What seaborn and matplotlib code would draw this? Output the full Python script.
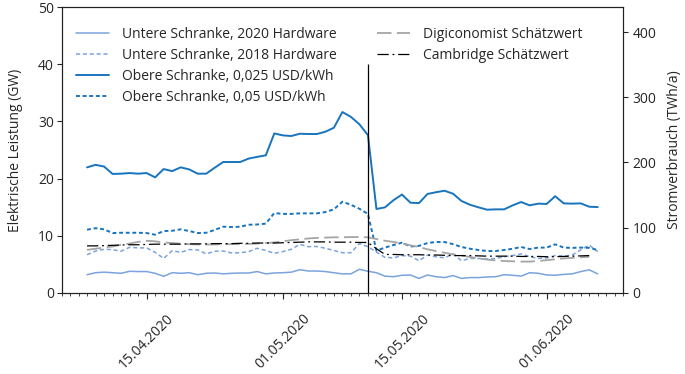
import matplotlib
matplotlib.use("Agg")
import matplotlib.pyplot as plt
import matplotlib.dates as mdates
import seaborn as sns
import pandas as pd
import numpy as np

# Zeitachse (täglich)
days_all = pd.date_range("2020-04-08", "2020-06-07", freq="D")
days_est = pd.date_range("2020-04-08", "2020-06-06", freq="D")
halving = pd.Timestamp("2020-05-11")

# Werte in GW
untere_2020 = [3.15, 3.5, 3.6, 3.5, 3.4, 3.75, 3.7, 3.7, 3.4, 2.87, 3.5, 3.4, 3.5, 3.15, 3.4, 3.45,
               3.3, 3.4, 3.45, 3.45, 3.7, 3.3, 3.45,
               3.5, 3.6, 4.03, 3.8, 3.8, 3.7, 3.5, 3.3, 3.3, 4.1, 3.75,
               3.5, 2.9, 2.8, 3.05, 3.1, 2.5, 3.1, 2.8, 2.65, 3.0, 2.5, 2.65, 2.65, 2.75, 2.8, 3.15,
               3.05, 2.9, 3.5, 3.4,
               3.1, 3.05, 3.2, 3.3, 3.7, 4.0, 3.3]
untere_2018 = [6.65, 7.3, 7.6, 7.55, 7.26, 7.95, 7.85, 7.85, 7.07, 6.0, 7.36, 7.07, 7.55, 7.5, 6.8, 7.26,
               7.3, 6.95, 7.0, 7.2, 7.78, 7.4, 6.9,
               7.2, 7.6, 8.47, 8.06, 8.1, 7.78, 7.4, 7.0, 7.0, 8.6, 8.06,
               7.1, 6.2, 6.1, 6.5, 6.4, 5.6, 6.6, 6.3, 6.1, 6.8, 5.6, 6.0, 6.0, 5.9, 6.0, 6.3,
               6.5, 6.8, 6.3, 6.0,
               6.1, 6.5, 6.4, 6.6, 7.5, 8.35, 7.2]
obere_0025 = [21.96, 22.4, 22.1, 20.8, 20.85, 20.96, 20.85, 20.96, 20.2, 21.66, 21.3, 21.96, 21.6,
              20.85, 20.85, 21.9, 22.9, 22.9, 22.9, 23.5, 23.8, 24.06, 27.9,
              27.56, 27.45, 27.85, 27.8, 27.8, 28.2, 28.9, 31.65, 30.8, 29.5, 27.6,
              14.66, 14.95, 16.2, 17.2, 15.76, 15.7, 17.3, 17.6, 17.86, 17.34, 16.06, 15.4, 14.95,
              14.54, 14.6, 14.6, 15.3, 15.88, 15.3, 15.6,
              15.55, 16.9, 15.65, 15.6, 15.65, 15.06, 15.0]
obere_005 = [11.04, 11.3, 11.1, 10.45, 10.5, 10.5, 10.5, 10.45, 10.16, 10.8, 10.85, 11.1, 10.8, 10.45,
             10.5, 11.0, 11.56, 11.5, 11.56, 11.9, 11.95, 12.1, 13.96,
             13.8, 13.8, 13.9, 13.9, 13.9, 14.13, 14.6, 15.94, 15.4, 14.7, 13.8,
             7.36, 7.9, 8.35, 8.76, 8.1, 8.2, 8.7, 8.88, 8.88, 8.5, 8.0, 7.7, 7.48, 7.3, 7.3, 7.48,
             7.7, 8.0, 7.65, 7.9,
             7.9, 8.47, 7.9, 7.85, 7.9, 7.85, 7.48]
digiconomist = [7.5, 7.7, 7.9, 8.1, 8.4, 8.6, 8.9, 9.1, 9.0, 8.8, 8.7, 8.6, 8.5, 8.45, 8.45, 8.45,
                8.5, 8.5, 8.5, 8.55, 8.6, 8.7, 8.8,
                9.0, 9.2, 9.35, 9.5, 9.6, 9.65, 9.7, 9.7, 9.75, 9.75, 9.7,
                9.4, 9.1, 8.9, 8.6, 8.3, 8.0, 7.6, 7.3, 7.0, 6.7, 6.5, 6.25, 6.0, 5.8, 5.65, 5.55,
                5.5, 5.45, 5.45, 5.55,
                5.7, 5.85, 6.0, 6.1, 6.2, 6.3]
cambridge = [8.2, 8.2, 8.25, 8.3, 8.35, 8.4, 8.4, 8.45, 8.5, 8.5, 8.5, 8.5, 8.55, 8.55, 8.55, 8.6,
             8.6, 8.6, 8.65, 8.65, 8.7, 8.7, 8.7,
             8.75, 8.8, 8.85, 8.9, 8.9, 8.9, 8.85, 8.85, 8.85, 8.8, 8.8,
             7.7, 6.7, 6.7, 6.65, 6.65, 6.65, 6.6, 6.6, 6.55, 6.5, 6.5, 6.5, 6.45, 6.4, 6.4, 6.4,
             6.4, 6.35, 6.35, 6.35,
             6.3, 6.3, 6.35, 6.4, 6.45, 6.5]

GW_TO_TWH = 8.76

sns.set_style("ticks")
plt.rcParams["font.family"] = ["Open Sans", "DejaVu Sans"]
plt.rcParams["font.size"] = 10

fig = plt.figure(figsize=(6.85, 3.74), dpi=100)
fig.subplots_adjust(left=0.0898, right=0.9099, bottom=0.2174, top=0.9805)
ax = fig.add_subplot(111)

c_light = "#7ba3dd"
c_blue = "#1874be"

sns.lineplot(x=days_all, y=untere_2020, ax=ax, color=c_light, lw=1.1,
             label="Untere Schranke, 2020 Hardware", legend=False)
sns.lineplot(x=days_all, y=untere_2018, ax=ax, color=c_light, lw=1.1, linestyle=(0, (2.7, 1.8)),
             label="Untere Schranke, 2018 Hardware", legend=False)
sns.lineplot(x=days_all, y=obere_0025, ax=ax, color=c_blue, lw=1.4,
             label="Obere Schranke, 0,025 USD/kWh", legend=False)
sns.lineplot(x=days_all, y=obere_005, ax=ax, color=c_blue, lw=1.4, linestyle=(0, (2, 1.4)),
             label="Obere Schranke, 0,05 USD/kWh", legend=False)
sns.lineplot(x=days_est, y=digiconomist, ax=ax, color="#a5a5a5", lw=1.3, linestyle=(0, (8, 3)),
             label="Digiconomist Schätzwert", legend=False)
sns.lineplot(x=days_est, y=cambridge, ax=ax, color="black", lw=0.9, linestyle=(0, (9, 3, 1.5, 3)),
             label="Cambridge Schätzwert", legend=False)

# Halving-Markierung
ax.vlines(halving, 0, 40, color="black", lw=0.9)

ax.set_xlim(pd.Timestamp("2020-04-05"), pd.Timestamp("2020-06-10"))
ax.set_ylim(0, 50)
ax.set_yticks(range(0, 51, 10))
ax.xaxis.set_major_locator(mdates.DayLocator(bymonthday=[1, 15]))
ax.xaxis.set_minor_locator(mdates.DayLocator())
ax.xaxis.set_major_formatter(mdates.DateFormatter("%d.%m.%Y"))
ax.tick_params(axis="x", which="major", length=4.5, width=0.8, pad=9, rotation=45)
ax.tick_params(axis="x", which="minor", length=2, width=0.6)
ax.tick_params(axis="y", length=3.5, width=0.8, pad=2)
ax.set_xlabel("")
ax.set_ylabel("Elektrische Leistung (GW)", labelpad=11)

ax2 = ax.twinx()
ax2.set_ylim(0, 50 * GW_TO_TWH)
ax2.set_yticks(range(0, 401, 100))
ax2.tick_params(axis="y", length=3.5, width=0.8, pad=3)
ax2.set_ylabel("Stromverbrauch (TWh/a)", labelpad=8)

for a in (ax, ax2):
    for s in a.spines.values():
        s.set_linewidth(0.8)
        s.set_color("#222222")

h, l = ax.get_legend_handles_labels()
leg1 = ax.legend(h[:4], l[:4], loc="upper left", bbox_to_anchor=(0.026, 0.93), frameon=False,
                 borderpad=0, borderaxespad=0, handlelength=2.4, handletextpad=0.9,
                 labelspacing=0.42)
ax.add_artist(leg1)
ax.legend(h[4:], l[4:], loc="upper left", bbox_to_anchor=(0.5616, 0.93), frameon=False,
          borderpad=0, borderaxespad=0, handlelength=2.4, handletextpad=0.9, labelspacing=0.42)

fig.savefig("out.png", dpi=100)
